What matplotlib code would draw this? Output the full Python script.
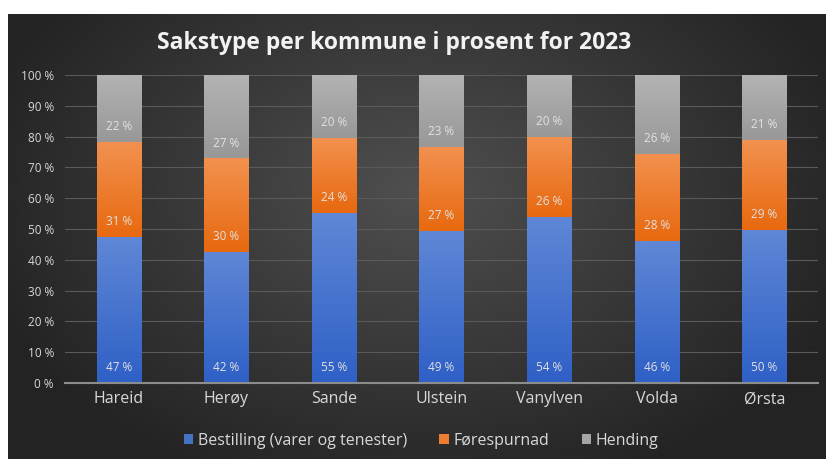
import numpy as np
import matplotlib
matplotlib.use("Agg")
import matplotlib.pyplot as plt
from matplotlib.colors import LinearSegmentedColormap

plt.rcParams['font.family'] = ['Open Sans', 'DejaVu Sans']

categories = ["Hareid", "Herøy", "Sande", "Ulstein", "Vanylven", "Volda", "Ørsta"]
series_names = ["Bestilling (varer og tenester)", "Førespurnad", "Hending"]
bestilling = [47.4, 42.5, 55.2, 49.3, 53.9, 46.1, 49.7]
forespurnad = [30.8, 30.4, 24.5, 27.3, 26.1, 28.3, 29.2]
hending = [21.8, 27.1, 20.3, 23.4, 20.0, 25.6, 21.1]
yticks = [0, 10, 20, 30, 40, 50, 60, 70, 80, 90, 100]

W, H = 826, 459
fig = plt.figure(figsize=(W / 100, H / 100), dpi=100)
fig.patch.set_facecolor("white")

# background panel with radial gradient
bg = fig.add_axes([8 / W, 0, 1 - 8 / W, 1 - 14 / H])
bg.set_axis_off()
yy, xx = np.mgrid[0:200, 0:360]
cx, cy = 180, 80
r = np.sqrt(((xx - cx) / 200) ** 2 + ((yy - cy) / 140) ** 2)
val = np.clip(0.31 - 0.17 * r, 0.14, 0.31)
img = np.dstack([val, val, val])
bg.imshow(img, aspect="auto", extent=[0, 1, 0, 1], interpolation="bilinear")
bg.set_xlim(0, 1)
bg.set_ylim(0, 1)

ax = fig.add_axes([65 / W, 1 - 383 / H, (818 - 65) / W, (383 - 75) / H])
ax.patch.set_alpha(0)
x = np.arange(len(categories))
width = 0.41

grads = [("#5f87d6", "#2f60c6"), ("#f2914f", "#e8690f"), ("#b3b3b3", "#989898")]
legend_cols = ["#4472c4", "#ed7d31", "#a5a5a5"]
bottom = np.zeros(len(categories))
for vals, (ctop, cbot), lc, name in zip([bestilling, forespurnad, hending], grads, legend_cols, series_names):
    vals = np.array(vals)
    bars = ax.bar(x, vals, width, bottom=bottom, color=lc, label=name, zorder=3, linewidth=0)
    cmap = LinearSegmentedColormap.from_list("g", [cbot, ctop])
    for b in bars:
        x0, y0 = b.get_x(), b.get_y()
        w, h = b.get_width(), b.get_height()
        im = ax.imshow(np.linspace(0, 1, 100).reshape(-1, 1), cmap=cmap, origin="lower",
                       extent=[x0, x0 + w, y0, y0 + h], aspect="auto", zorder=3.5,
                       interpolation="bilinear")
        im.set_clip_path(b)
    for xi, bt, v in zip(x, bottom, vals):
        ax.text(xi, bt + 5, f"{round(v):d} %", ha="center", va="center",
                color="#e2e2e2", fontsize=8.5, zorder=5)
    bottom = bottom + vals

ax.set_xlim(-0.5, len(categories) - 0.5)
ax.set_ylim(0, 100)
ax.set_yticks(yticks)
ax.set_yticklabels([f"{t} %" for t in yticks], fontsize=8.5, color="#d9d9d9")
ax.set_xticks(x)
ax.set_xticklabels(categories, fontsize=11.5, color="#d9d9d9")
ax.tick_params(length=0, pad=8)
ax.tick_params(axis="x", pad=6)
ax.grid(axis="y", color="#5a5a5a", linewidth=0.8, zorder=0)
for s in ["top", "right", "left"]:
    ax.spines[s].set_visible(False)
ax.spines["bottom"].set_color("#8c8c8c")
ax.spines["bottom"].set_linewidth(1.5)
ax.spines["bottom"].set_zorder(6)

fig.text(0.477, 1 - 43 / H, "Sakstype per kommune i prosent for 2023", ha="center", va="center",
         fontsize=16.5, fontweight="bold", color="#f2f2f2")

leg = fig.legend(loc="center", bbox_to_anchor=(0.51, 1 - 441 / H), ncol=3, frameon=False,
                 fontsize=11.5, handlelength=0.6, handleheight=0.6, handletextpad=0.3,
                 columnspacing=2.0, labelcolor="#d9d9d9")

fig.savefig("out.png", dpi=100)
